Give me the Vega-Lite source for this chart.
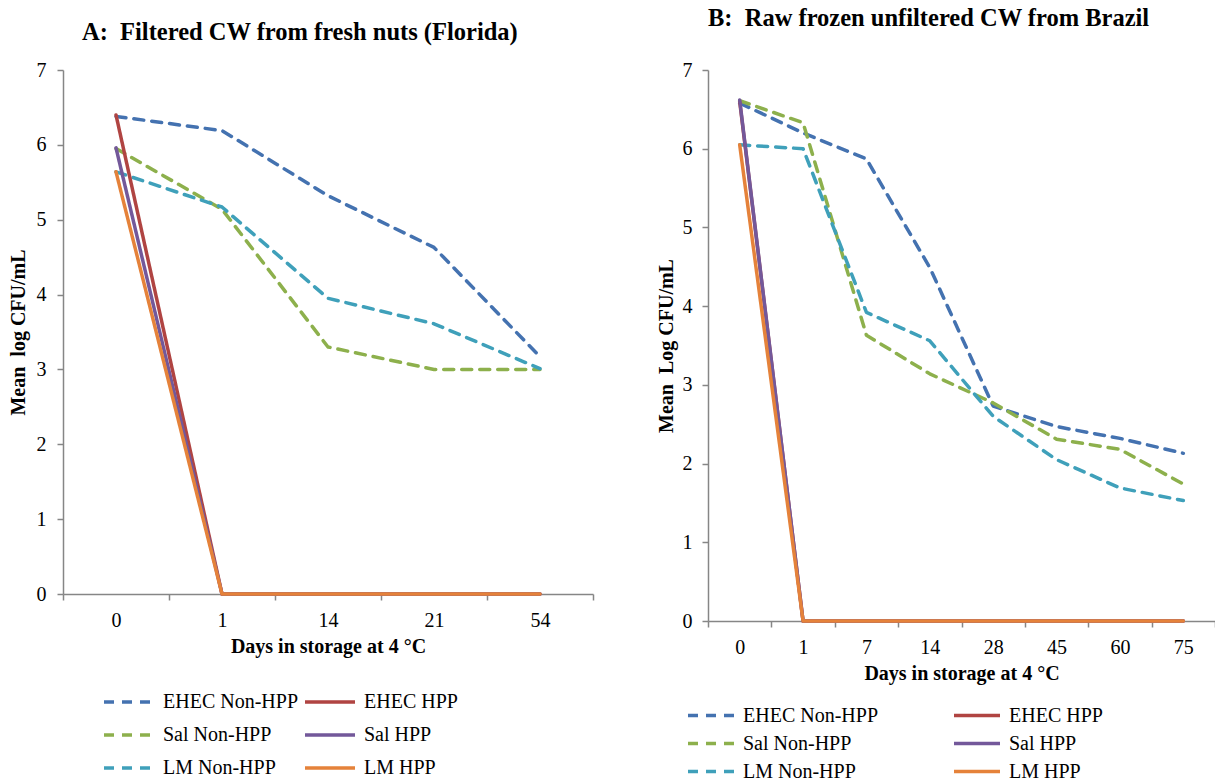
{
  "$schema": "https://vega.github.io/schema/vega-lite/v6.json",
  "padding": {"left": 8, "top": 6, "right": 0, "bottom": 0},
  "background": "white",
  "bounds": "flush",
  "spacing": 115,
  "resolve": {"scale": {"color": "independent", "strokeDash": "independent"}, "legend": {"color": "independent", "strokeDash": "independent"}},
  "config": {
    "font": "Liberation Serif",
    "view": {"stroke": null},
    "axis": {
      "domainColor": "#868686", "tickColor": "#868686", "domainWidth": 1.5, "tickWidth": 1.5,
      "labelColor": "black", "titleColor": "black", "labelFont": "Liberation Serif", "titleFont": "Liberation Serif",
      "labelFontSize": 20, "titleFontSize": 20, "titleFontWeight": "bold", "grid": false, "tickSize": 6
    },
    "legend": {"labelFont": "Liberation Serif", "labelFontSize": 20, "labelColor": "black"},
    "title": {"font": "Liberation Serif", "fontSize": 24.5, "fontWeight": "bold", "color": "black"},
    "line": {"strokeWidth": 3.5, "strokeCap": "round", "strokeJoin": "round"}
  },
  "datasets": {
    "A": [
      {"series": "EHEC Non-HPP", "day": 0, "value": 6.38},
      {"series": "EHEC Non-HPP", "day": 1, "value": 6.19},
      {"series": "EHEC Non-HPP", "day": 14, "value": 5.32},
      {"series": "EHEC Non-HPP", "day": 21, "value": 4.63},
      {"series": "EHEC Non-HPP", "day": 54, "value": 3.17},
      {"series": "Sal Non-HPP", "day": 0, "value": 5.95},
      {"series": "Sal Non-HPP", "day": 1, "value": 5.14},
      {"series": "Sal Non-HPP", "day": 14, "value": 3.3},
      {"series": "Sal Non-HPP", "day": 21, "value": 3.0},
      {"series": "Sal Non-HPP", "day": 54, "value": 3.0},
      {"series": "LM Non-HPP", "day": 0, "value": 5.64},
      {"series": "LM Non-HPP", "day": 1, "value": 5.17},
      {"series": "LM Non-HPP", "day": 14, "value": 3.95},
      {"series": "LM Non-HPP", "day": 21, "value": 3.61},
      {"series": "LM Non-HPP", "day": 54, "value": 3.01},
      {"series": "EHEC HPP", "day": 0, "value": 6.4},
      {"series": "EHEC HPP", "day": 1, "value": 0},
      {"series": "EHEC HPP", "day": 14, "value": 0},
      {"series": "EHEC HPP", "day": 21, "value": 0},
      {"series": "EHEC HPP", "day": 54, "value": 0},
      {"series": "Sal HPP", "day": 0, "value": 5.96},
      {"series": "Sal HPP", "day": 1, "value": 0},
      {"series": "Sal HPP", "day": 14, "value": 0},
      {"series": "Sal HPP", "day": 21, "value": 0},
      {"series": "Sal HPP", "day": 54, "value": 0},
      {"series": "LM HPP", "day": 0, "value": 5.64},
      {"series": "LM HPP", "day": 1, "value": 0},
      {"series": "LM HPP", "day": 14, "value": 0},
      {"series": "LM HPP", "day": 21, "value": 0},
      {"series": "LM HPP", "day": 54, "value": 0}
    ],
    "B": [
      {"series": "EHEC Non-HPP", "day": 0, "value": 6.58},
      {"series": "EHEC Non-HPP", "day": 1, "value": 6.2},
      {"series": "EHEC Non-HPP", "day": 7, "value": 5.87},
      {"series": "EHEC Non-HPP", "day": 14, "value": 4.49},
      {"series": "EHEC Non-HPP", "day": 28, "value": 2.73},
      {"series": "EHEC Non-HPP", "day": 45, "value": 2.47},
      {"series": "EHEC Non-HPP", "day": 60, "value": 2.32},
      {"series": "EHEC Non-HPP", "day": 75, "value": 2.13},
      {"series": "Sal Non-HPP", "day": 0, "value": 6.61},
      {"series": "Sal Non-HPP", "day": 1, "value": 6.33},
      {"series": "Sal Non-HPP", "day": 7, "value": 3.63},
      {"series": "Sal Non-HPP", "day": 14, "value": 3.14},
      {"series": "Sal Non-HPP", "day": 28, "value": 2.77},
      {"series": "Sal Non-HPP", "day": 45, "value": 2.31},
      {"series": "Sal Non-HPP", "day": 60, "value": 2.18},
      {"series": "Sal Non-HPP", "day": 75, "value": 1.74},
      {"series": "LM Non-HPP", "day": 0, "value": 6.05},
      {"series": "LM Non-HPP", "day": 1, "value": 6.0},
      {"series": "LM Non-HPP", "day": 7, "value": 3.92},
      {"series": "LM Non-HPP", "day": 14, "value": 3.56},
      {"series": "LM Non-HPP", "day": 28, "value": 2.6},
      {"series": "LM Non-HPP", "day": 45, "value": 2.05},
      {"series": "LM Non-HPP", "day": 60, "value": 1.69},
      {"series": "LM Non-HPP", "day": 75, "value": 1.53},
      {"series": "EHEC HPP", "day": 0, "value": 6.6},
      {"series": "EHEC HPP", "day": 1, "value": 0},
      {"series": "EHEC HPP", "day": 7, "value": 0},
      {"series": "EHEC HPP", "day": 14, "value": 0},
      {"series": "EHEC HPP", "day": 28, "value": 0},
      {"series": "EHEC HPP", "day": 45, "value": 0},
      {"series": "EHEC HPP", "day": 60, "value": 0},
      {"series": "EHEC HPP", "day": 75, "value": 0},
      {"series": "Sal HPP", "day": 0, "value": 6.62},
      {"series": "Sal HPP", "day": 1, "value": 0},
      {"series": "Sal HPP", "day": 7, "value": 0},
      {"series": "Sal HPP", "day": 14, "value": 0},
      {"series": "Sal HPP", "day": 28, "value": 0},
      {"series": "Sal HPP", "day": 45, "value": 0},
      {"series": "Sal HPP", "day": 60, "value": 0},
      {"series": "Sal HPP", "day": 75, "value": 0},
      {"series": "LM HPP", "day": 0, "value": 6.05},
      {"series": "LM HPP", "day": 1, "value": 0},
      {"series": "LM HPP", "day": 7, "value": 0},
      {"series": "LM HPP", "day": 14, "value": 0},
      {"series": "LM HPP", "day": 28, "value": 0},
      {"series": "LM HPP", "day": 45, "value": 0},
      {"series": "LM HPP", "day": 60, "value": 0},
      {"series": "LM HPP", "day": 75, "value": 0}
    ]
  },
  "hconcat": [
    {
      "width": 530,
      "height": 524,
      "title": {"text": "A:\u00a0 Filtered CW from fresh nuts (Florida)", "anchor": "start", "frame": "group", "dx": 19, "offset": 15},
      "data": {"name": "A"},
      "mark": {"type": "line"},
      "encoding": {
        "x": {"field": "day", "type": "ordinal", "bandPosition": 0.5,
              "scale": {"type": "band", "paddingInner": 0, "paddingOuter": 0},
              "axis": {"title": "Days in storage at 4 °C", "labelAngle": 0, "tickBand": "extent", "labelPadding": 10, "titlePadding": 6}},
        "y": {"field": "value", "type": "quantitative",
              "scale": {"domain": [0, 7], "nice": false, "zero": true},
              "axis": {"title": "Mean\u00a0 log CFU/mL", "values": [0, 1, 2, 3, 4, 5, 6, 7], "labelPadding": 11, "titlePadding": 8}},
        "color": {"field": "series", "type": "nominal",
                  "scale": {"domain": ["EHEC Non-HPP", "Sal Non-HPP", "LM Non-HPP", "EHEC HPP", "Sal HPP", "LM HPP"],
                            "range": ["#4472B0", "#8DB04C", "#3FA0BA", "#B04442", "#73589A", "#E5823A"]},
                  "legend": {"title": null, "orient": "none", "legendX": 39, "legendY": 622, "columns": 2, "symbolType": "stroke",
                             "symbolSize": 2500, "symbolStrokeWidth": 4, "labelOffset": 7, "columnPadding": 4, "rowPadding": 13, "clipHeight": 20}},
        "strokeDash": {"field": "series", "type": "nominal",
                  "scale": {"domain": ["EHEC Non-HPP", "Sal Non-HPP", "LM Non-HPP", "EHEC HPP", "Sal HPP", "LM HPP"],
                            "range": [[10, 8], [10, 8], [10, 8], [1, 0], [1, 0], [1, 0]]},
                  "legend": {"title": null, "orient": "none", "legendX": 39, "legendY": 622, "columns": 2, "symbolType": "stroke",
                             "symbolSize": 2500, "symbolStrokeWidth": 4, "labelOffset": 7, "columnPadding": 4, "rowPadding": 13, "clipHeight": 20}}
      }
    },
    {
      "width": 507,
      "height": 551,
      "title": {"text": "B:\u00a0 Raw frozen unfiltered CW from Brazil", "anchor": "start", "frame": "group", "dx": 0, "offset": 28.5},
      "data": {"name": "B"},
      "mark": {"type": "line"},
      "encoding": {
        "x": {"field": "day", "type": "ordinal", "bandPosition": 0.5,
              "scale": {"type": "band", "paddingInner": 0, "paddingOuter": 0},
              "axis": {"title": "Days in storage at 4 °C", "labelAngle": 0, "tickBand": "extent", "labelPadding": 10, "titlePadding": 6}},
        "y": {"field": "value", "type": "quantitative",
              "scale": {"domain": [0, 7], "nice": false, "zero": true},
              "axis": {"title": "Mean\u00a0 Log CFU/mL", "values": [0, 1, 2, 3, 4, 5, 6, 7], "labelPadding": 10, "titlePadding": 6}},
        "color": {"field": "series", "type": "nominal",
                  "scale": {"domain": ["EHEC Non-HPP", "Sal Non-HPP", "LM Non-HPP", "EHEC HPP", "Sal HPP", "LM HPP"],
                            "range": ["#4472B0", "#8DB04C", "#3FA0BA", "#B04442", "#73589A", "#E5823A"]},
                  "legend": {"title": null, "orient": "none", "legendX": -22, "legendY": 635.5, "columns": 2, "symbolType": "stroke",
                             "symbolSize": 2116, "symbolStrokeWidth": 4, "labelOffset": 7, "columnPadding": 73, "rowPadding": 8, "clipHeight": 20}},
        "strokeDash": {"field": "series", "type": "nominal",
                  "scale": {"domain": ["EHEC Non-HPP", "Sal Non-HPP", "LM Non-HPP", "EHEC HPP", "Sal HPP", "LM HPP"],
                            "range": [[10, 8], [10, 8], [10, 8], [1, 0], [1, 0], [1, 0]]},
                  "legend": {"title": null, "orient": "none", "legendX": -22, "legendY": 635.5, "columns": 2, "symbolType": "stroke",
                             "symbolSize": 2116, "symbolStrokeWidth": 4, "labelOffset": 7, "columnPadding": 73, "rowPadding": 8, "clipHeight": 20}}
      }
    }
  ]
}
